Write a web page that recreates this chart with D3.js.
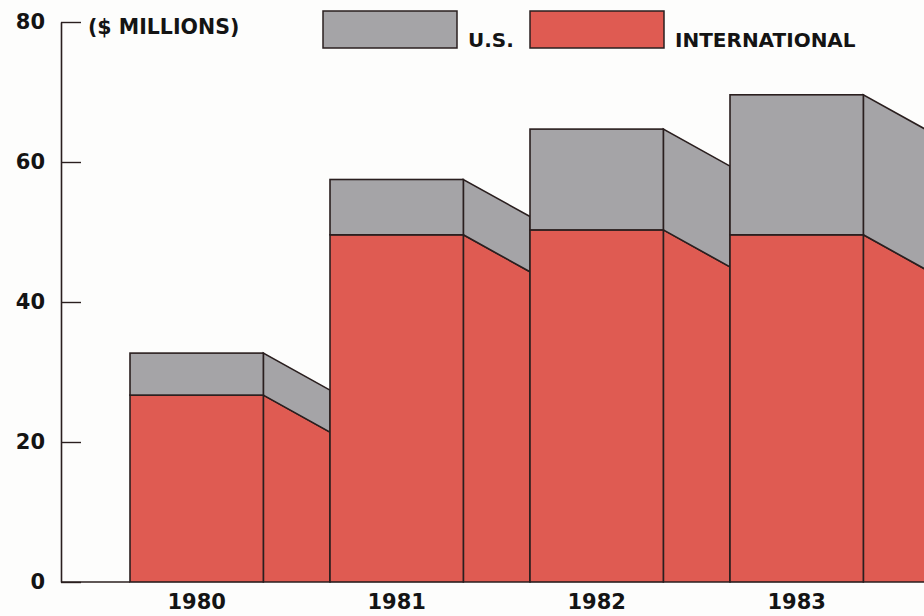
<!DOCTYPE html>
<html>
<head>
<meta charset="utf-8">
<script src="https://cdn.jsdelivr.net/npm/d3@7"></script>
<style>
  body { margin: 0; background: #fdfdfc; }
  svg { display: block; }
  text { font-family: "DejaVu Sans", sans-serif; font-weight: bold; fill: #141414; }
</style>
</head>
<body>
<svg width="924" height="616"></svg>
<script>
// values ($ millions)
var years = ["1980", "1981", "1982", "1983"]
var international = [26.7, 49.6, 50.3, 49.6]
var us = [6.0, 7.9, 14.4, 20.0]
var yTicks = [0, 20, 40, 60, 80]

var svg = d3.select("svg")

var grey = "rgb(165,164,167)",
    red = "rgb(223,91,82)",
    ink = "#2a1f1f"

var sideDrop = 37 // perspective drop of the side face, px

var x = d3.scaleBand()
    .domain(years)
    .range([130, 930])
    .paddingInner(0)
    .paddingOuter(0)

var frontW = x.step() * 2 / 3

var y = d3.scaleLinear()
    .domain([0, 80])
    .range([582, 22])

var data = years.map(function (yr, i) {
    return { year: yr, intl: international[i], us: us[i], total: international[i] + us[i] }
})

// faint scan line
svg.append("line")
    .attr("x1", 130).attr("x2", 924)
    .attr("y1", 488).attr("y2", 488)
    .style("stroke", "rgba(214,150,60,0.45)")
    .style("stroke-width", 1)

var bars = svg.append("g")
    .selectAll("g")
    .data(data)
    .enter().append("g")

function pts(p) { return p.map(function (d) { return d.join(",") }).join(" ") }

// side faces
bars.append("polygon")
    .attr("points", function (d) {
        var x1 = x(d.year) + frontW, x2 = x(d.year) + x.step()
        return pts([[x1, y(0)], [x1, y(d.intl)], [x2, Math.min(y(d.intl) + sideDrop, y(0))], [x2, y(0)]])
    })
    .attr("fill", red)
    .style("stroke", ink).style("stroke-width", 1.6)

bars.append("polygon")
    .attr("points", function (d) {
        var x1 = x(d.year) + frontW, x2 = x(d.year) + x.step()
        return pts([[x1, y(d.intl)], [x1, y(d.total)], [x2, y(d.total) + sideDrop], [x2, y(d.intl) + sideDrop]])
    })
    .attr("fill", grey)
    .style("stroke", ink).style("stroke-width", 1.6)

// front faces
bars.append("rect")
    .attr("x", function (d) { return x(d.year) })
    .attr("width", frontW)
    .attr("y", function (d) { return y(d.intl) })
    .attr("height", function (d) { return y(0) - y(d.intl) })
    .attr("fill", red)
    .style("stroke", ink).style("stroke-width", 1.6)

bars.append("rect")
    .attr("x", function (d) { return x(d.year) })
    .attr("width", frontW)
    .attr("y", function (d) { return y(d.total) })
    .attr("height", function (d) { return y(d.intl) - y(d.total) })
    .attr("fill", grey)
    .style("stroke", ink).style("stroke-width", 1.6)

// year labels
bars.append("text")
    .attr("x", function (d) { return x(d.year) + frontW / 2 })
    .attr("y", 609)
    .attr("text-anchor", "middle")
    .style("font-size", "21px")
    .text(function (d) { return d.year })

// y axis
var axis = svg.append("g")
    .attr("transform", "translate(61,0)")
    .call(d3.axisLeft(y).tickValues(yTicks).tickSizeInner(-20).tickSizeOuter(0).tickPadding(16))
axis.select(".domain").style("stroke", ink).style("stroke-width", 1.6)
axis.selectAll(".tick line").style("stroke", ink).style("stroke-width", 1.4)
axis.selectAll(".tick text")
    .style("font-family", "'DejaVu Sans', sans-serif")
    .style("font-weight", "bold")
    .style("font-size", "21px")
    .style("fill", "#141414")

// baseline to first bar
svg.append("line")
    .attr("x1", 61).attr("x2", x(years[0]))
    .attr("y1", y(0)).attr("y2", y(0))
    .style("stroke", ink).style("stroke-width", 1.6)

svg.append("text")
    .attr("x", 88).attr("y", 34)
    .style("font-size", "20.5px")
    .text("($ MILLIONS)")

// legend
var legend = [{ label: "U.S.", color: grey, x: 323 }, { label: "INTERNATIONAL", color: red, x: 530 }]
var lg = svg.append("g").selectAll("g").data(legend).enter().append("g")
lg.append("rect")
    .attr("x", function (d) { return d.x }).attr("y", 11)
    .attr("width", 134).attr("height", 37)
    .attr("fill", function (d) { return d.color })
    .style("stroke", ink).style("stroke-width", 1.5)
lg.append("text")
    .attr("x", function (d) { return d.x + 145 }).attr("y", 47)
    .style("font-size", "20px")
    .text(function (d) { return d.label })
</script>
</body>
</html>
